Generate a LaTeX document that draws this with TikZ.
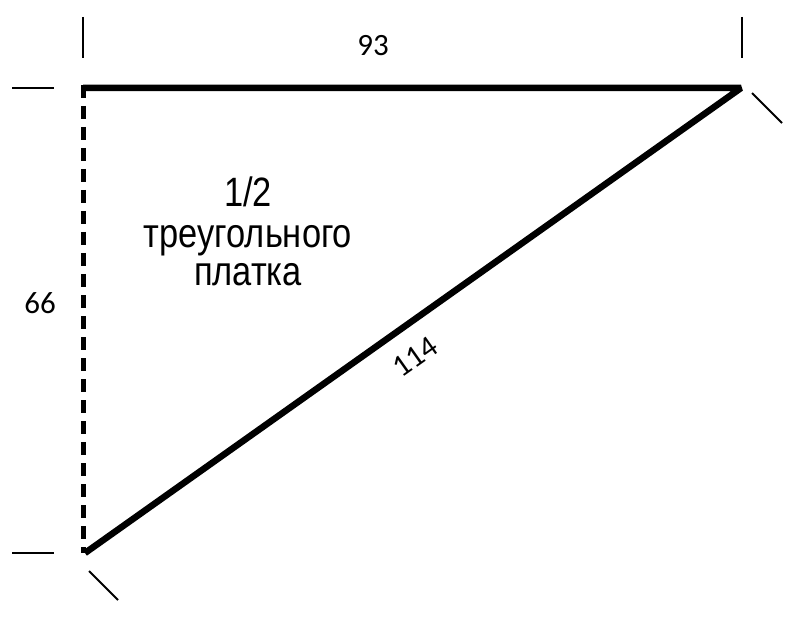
\documentclass[tikz,border=0pt]{standalone}
\usepackage{fontspec}
\setmainfont{Liberation Sans}
\newfontfamily\numfont{Carlito}
\newfontfamily\labfont[FakeStretch=0.84]{Liberation Sans}
\begin{document}
\begin{tikzpicture}[x=1pt,y=-1pt,
  edge/.style={line width=6.5pt,line join=bevel,line cap=butt},
  fold/.style={line width=5pt,dash pattern=on 13pt off 8pt},
  tick/.style={line width=2pt},
  dim/.style={font=\numfont\fontsize{31}{34}\selectfont,inner sep=0pt},
  lab/.style={font=\labfont\fontsize{41}{44}\selectfont,inner sep=0pt,anchor=base}]
\useasboundingbox (0,0) rectangle (800,620);
\coordinate (A) at (83,88);
\coordinate (B) at (741,88);
\coordinate (C) at (85,553);
% fold line (dashed)
\draw[fold] (83,85) -- (83,553);
% outline
\draw[edge] (A) -- (B) -- (C);
% dimension ticks
\coordinate (t1a) at (83,17);  \coordinate (t1b) at (83,58);
\coordinate (t2a) at (742,17); \coordinate (t2b) at (742,58);
\coordinate (t3a) at (12,88);  \coordinate (t3b) at (54,88);
\coordinate (t4a) at (12,553); \coordinate (t4b) at (54,553);
\coordinate (t5a) at (752,93); \coordinate (t5b) at (782,123);
\coordinate (t6a) at (89,571); \coordinate (t6b) at (118,600);
\draw[tick] (t1a) -- (t1b);
\draw[tick] (t2a) -- (t2b);
\draw[tick] (t3a) -- (t3b);
\draw[tick] (t4a) -- (t4b);
\draw[tick] (t5a) -- (t5b);
\draw[tick] (t6a) -- (t6b);
% dimension labels
\node[dim] (w) at (373,46) {93};
\node[dim] (h) at (40,303) {66};
\node[dim,rotate=35.3] (d) at (415,357) {114};
% title
\node[lab] (l1) at (248,207) {1/2};
\node[lab] (l2) at (248,248) {треугольного};
\node[lab] (l3) at (248,286) {платка};
\end{tikzpicture}
\end{document}
